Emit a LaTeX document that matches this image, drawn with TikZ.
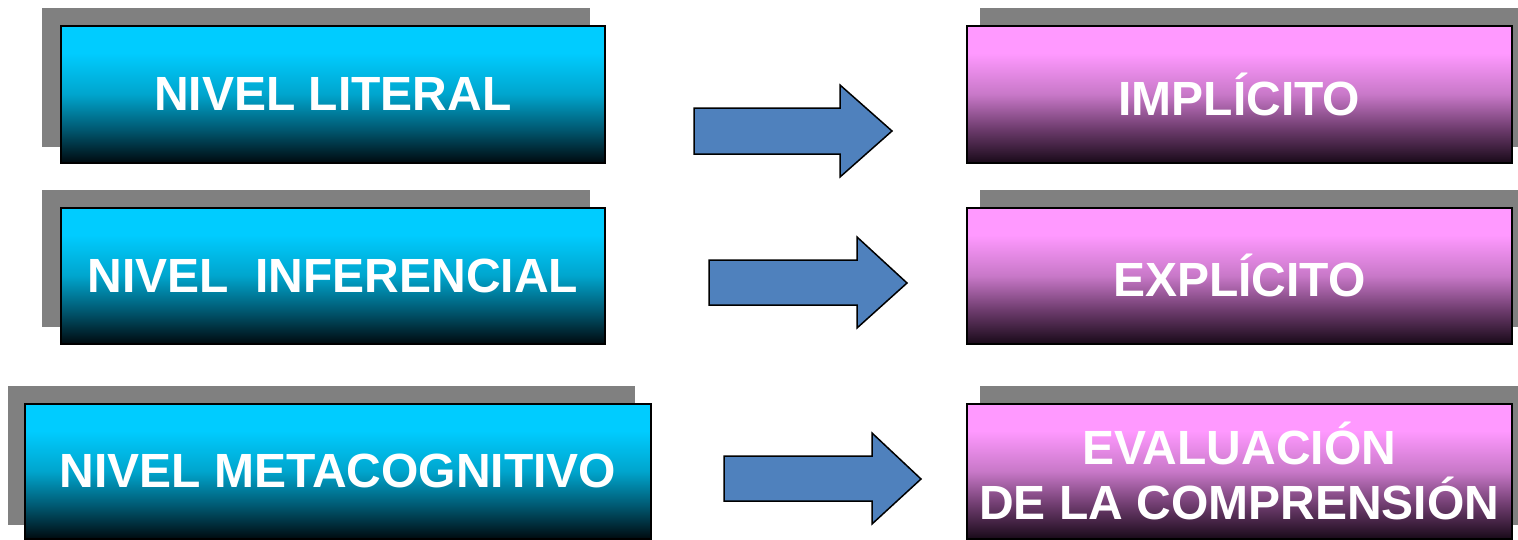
\documentclass[tikz,border=0pt]{standalone}
\usepackage{fontspec}
\setmainfont{Liberation Sans}
\definecolor{shadowgray}{RGB}{128,128,128}
\definecolor{arrowblue}{RGB}{79,129,189}
\definecolor{cyA}{RGB}{0,10,15}
\definecolor{cyB}{RGB}{0,90,115}
\definecolor{cyC}{RGB}{0,165,205}
\definecolor{cyD}{RGB}{0,204,255}
\definecolor{pkA}{RGB}{25,10,25}
\definecolor{pkB}{RGB}{110,60,110}
\definecolor{pkC}{RGB}{200,120,200}
\definecolor{pkD}{RGB}{255,153,255}
\pgfdeclareverticalshading{cyanbox}{100bp}{color(0bp)=(cyA); color(25bp)=(cyA); color(37.5bp)=(cyB); color(50bp)=(cyC); color(65bp)=(cyD); color(75bp)=(cyD); color(100bp)=(cyD)}
\pgfdeclareverticalshading{pinkbox}{100bp}{color(0bp)=(pkA); color(25bp)=(pkA); color(37.5bp)=(pkB); color(50bp)=(pkC); color(65bp)=(pkD); color(75bp)=(pkD); color(100bp)=(pkD)}
\tikzset{
  shadowbox/.style={fill=shadowgray, draw=none},
  basebox/.style={draw=black, line width=1.5pt, inner sep=0pt, anchor=north west,
    text=white, align=center, font=\fontsize{48}{55}\selectfont\bfseries},
  levelbox/.style={basebox, shading=cyanbox},
  resultbox/.style={basebox, shading=pinkbox},
  blockarrow/.style={fill=arrowblue, draw=black, line width=1.5pt, line join=miter}
}
\begin{document}
\begin{tikzpicture}[x=1pt,y=-1pt]
\useasboundingbox (0,0) rectangle (1518,539);
% shadows
\fill[shadowbox] (42,8) rectangle (590,147);
\fill[shadowbox] (42,190) rectangle (590,327);
\fill[shadowbox] (8,386) rectangle (635,525);
\fill[shadowbox] (980,8) rectangle (1518,147);
\fill[shadowbox] (980,190) rectangle (1518,327);
\fill[shadowbox] (980,386) rectangle (1518,525);
% left boxes
\node[levelbox, minimum width=544pt, minimum height=137pt] (lit) at (60,25) {NIVEL LITERAL};
\node[levelbox, minimum width=544pt, minimum height=136pt] (inf) at (60,207) {NIVEL\ \ INFERENCIAL};
\node[levelbox, minimum width=626pt, minimum height=135pt] (meta) at (24,403) {NIVEL METACOGNITIVO};
% right boxes
\node[resultbox, minimum width=545pt, minimum height=137pt] (imp) at (966,25) {IMPLÍCITO};
\node[resultbox, minimum width=545pt, minimum height=136pt] (exp) at (966,207) {EXPLÍCITO};
\node[resultbox, minimum width=545pt, minimum height=135pt] (eva) at (966,403) {EVALUACIÓN\\DE LA COMPRENSIÓN};
% arrows
\draw[blockarrow] (694,108) -- (840,108) -- (840,85) -- (892,131) -- (840,177) -- (840,154) -- (694,154) -- cycle;
\draw[blockarrow] (709,260) -- (857,260) -- (857,237) -- (907,283) -- (857,328) -- (857,305) -- (709,305) -- cycle;
\draw[blockarrow] (724,456) -- (872,456) -- (872,433) -- (921,479) -- (872,524) -- (872,501) -- (724,501) -- cycle;
\end{tikzpicture}
\end{document}
